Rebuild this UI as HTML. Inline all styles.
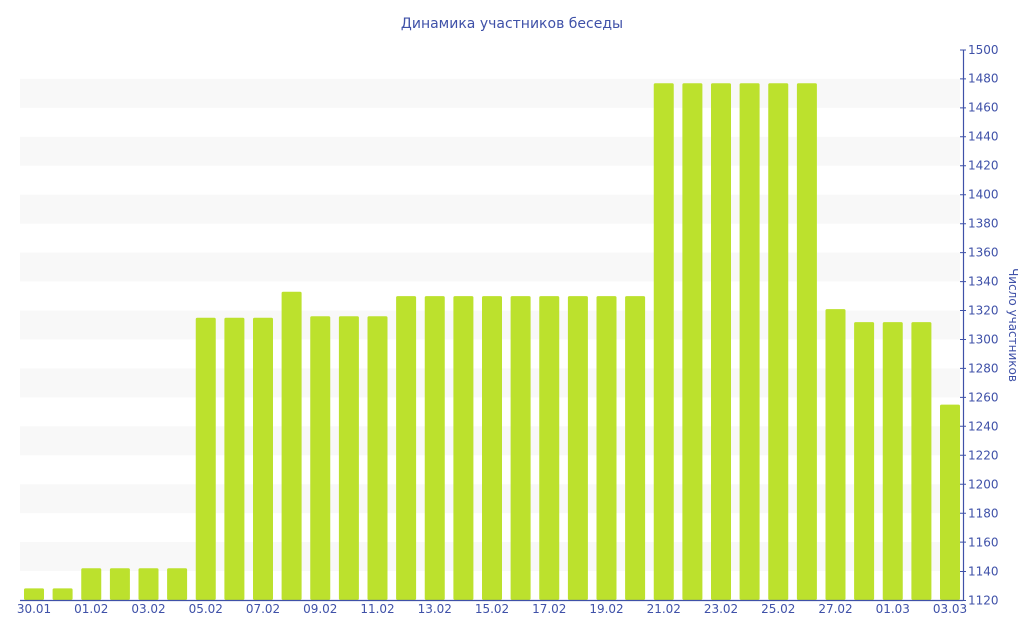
<!DOCTYPE html>
<html><head><meta charset="utf-8"><style>
html,body{margin:0;padding:0;background:#fff;}
svg{display:block;font-family:"DejaVu Sans","Liberation Sans",sans-serif;}
</style></head><body>
<svg width="1024" height="640" viewBox="0 0 1024 640" xmlns="http://www.w3.org/2000/svg">
<text x="512" y="28" text-anchor="middle" font-size="14" fill="#3f51a8">Динамика участников беседы</text>
<g fill="#f8f8f8">
<rect x="20" y="542.1" width="940" height="28.95"/>
<rect x="20" y="484.2" width="940" height="28.95"/>
<rect x="20" y="426.3" width="940" height="28.95"/>
<rect x="20" y="368.4" width="940" height="28.95"/>
<rect x="20" y="310.5" width="940" height="28.95"/>
<rect x="20" y="252.6" width="940" height="28.95"/>
<rect x="20" y="194.7" width="940" height="28.95"/>
<rect x="20" y="136.8" width="940" height="28.95"/>
<rect x="20" y="78.9" width="940" height="28.95"/>
</g>
<g fill="#bce12d">
<rect x="24" y="588.4" width="20" height="11.6" rx="1.5"/>
<rect x="52.6" y="588.4" width="20" height="11.6" rx="1.5"/>
<rect x="81.25" y="568.2" width="20" height="31.8" rx="1.5"/>
<rect x="109.9" y="568.2" width="20" height="31.8" rx="1.5"/>
<rect x="138.5" y="568.2" width="20" height="31.8" rx="1.5"/>
<rect x="167.1" y="568.2" width="20" height="31.8" rx="1.5"/>
<rect x="195.75" y="317.8" width="20" height="282.2" rx="1.5"/>
<rect x="224.4" y="317.8" width="20" height="282.2" rx="1.5"/>
<rect x="253" y="317.8" width="20" height="282.2" rx="1.5"/>
<rect x="281.6" y="291.7" width="20" height="308.3" rx="1.5"/>
<rect x="310.25" y="316.3" width="20" height="283.7" rx="1.5"/>
<rect x="338.9" y="316.3" width="20" height="283.7" rx="1.5"/>
<rect x="367.5" y="316.3" width="20" height="283.7" rx="1.5"/>
<rect x="396.1" y="296.1" width="20" height="303.9" rx="1.5"/>
<rect x="424.75" y="296.1" width="20" height="303.9" rx="1.5"/>
<rect x="453.4" y="296.1" width="20" height="303.9" rx="1.5"/>
<rect x="482" y="296.1" width="20" height="303.9" rx="1.5"/>
<rect x="510.6" y="296.1" width="20" height="303.9" rx="1.5"/>
<rect x="539.25" y="296.1" width="20" height="303.9" rx="1.5"/>
<rect x="567.9" y="296.1" width="20" height="303.9" rx="1.5"/>
<rect x="596.5" y="296.1" width="20" height="303.9" rx="1.5"/>
<rect x="625.1" y="296.1" width="20" height="303.9" rx="1.5"/>
<rect x="653.75" y="83.3" width="20" height="516.7" rx="1.5"/>
<rect x="682.4" y="83.3" width="20" height="516.7" rx="1.5"/>
<rect x="711" y="83.3" width="20" height="516.7" rx="1.5"/>
<rect x="739.6" y="83.3" width="20" height="516.7" rx="1.5"/>
<rect x="768.25" y="83.3" width="20" height="516.7" rx="1.5"/>
<rect x="796.9" y="83.3" width="20" height="516.7" rx="1.5"/>
<rect x="825.5" y="309.1" width="20" height="290.9" rx="1.5"/>
<rect x="854.1" y="322.1" width="20" height="277.9" rx="1.5"/>
<rect x="882.75" y="322.1" width="20" height="277.9" rx="1.5"/>
<rect x="911.4" y="322.1" width="20" height="277.9" rx="1.5"/>
<rect x="940" y="404.6" width="20" height="195.4" rx="1.5"/>
</g>
<line x1="20" y1="600.5" x2="963" y2="600.5" stroke="#3f51a8" stroke-width="1.2"/>
<line x1="963.5" y1="50" x2="963.5" y2="601" stroke="#3f51a8" stroke-width="1.2"/>
<g stroke="#3f51a8" stroke-width="1">
<path d="M960 600.5h6M960 571.5h6M960 542.1h6M960 513.2h6M960 484.2h6M960 455.3h6M960 426.3h6M960 397.4h6M960 368.4h6M960 339.5h6M960 310.5h6M960 281.6h6M960 252.6h6M960 223.7h6M960 194.7h6M960 165.8h6M960 136.8h6M960 107.9h6M960 78.9h6M960 50h6"/>
</g>
<g fill="#3f51a8" font-size="12">
<text x="968" y="604.5">1120</text>
<text x="968" y="575.5">1140</text>
<text x="968" y="546.5">1160</text>
<text x="968" y="517.5">1180</text>
<text x="968" y="488.5">1200</text>
<text x="968" y="459.5">1220</text>
<text x="968" y="430.5">1240</text>
<text x="968" y="401.5">1260</text>
<text x="968" y="372.5">1280</text>
<text x="968" y="343.5">1300</text>
<text x="968" y="314.5">1320</text>
<text x="968" y="285.5">1340</text>
<text x="968" y="256.5">1360</text>
<text x="968" y="227.5">1380</text>
<text x="968" y="198.5">1400</text>
<text x="968" y="169.5">1420</text>
<text x="968" y="140.5">1440</text>
<text x="968" y="111.5">1460</text>
<text x="968" y="82.5">1480</text>
<text x="968" y="54">1500</text>
</g>
<text transform="translate(1009,325) rotate(90)" text-anchor="middle" font-size="12" fill="#3f51a8">Число участников</text>
<g fill="#3f51a8" font-size="12" text-anchor="middle">
<text x="34" y="613">30.01</text>
<text x="91.25" y="613">01.02</text>
<text x="148.5" y="613">03.02</text>
<text x="205.75" y="613">05.02</text>
<text x="263" y="613">07.02</text>
<text x="320.25" y="613">09.02</text>
<text x="377.5" y="613">11.02</text>
<text x="434.75" y="613">13.02</text>
<text x="492" y="613">15.02</text>
<text x="549.25" y="613">17.02</text>
<text x="606.5" y="613">19.02</text>
<text x="663.75" y="613">21.02</text>
<text x="721" y="613">23.02</text>
<text x="778.25" y="613">25.02</text>
<text x="835.5" y="613">27.02</text>
<text x="892.75" y="613">01.03</text>
<text x="950" y="613">03.03</text>
</g>
</svg>
</body></html>
